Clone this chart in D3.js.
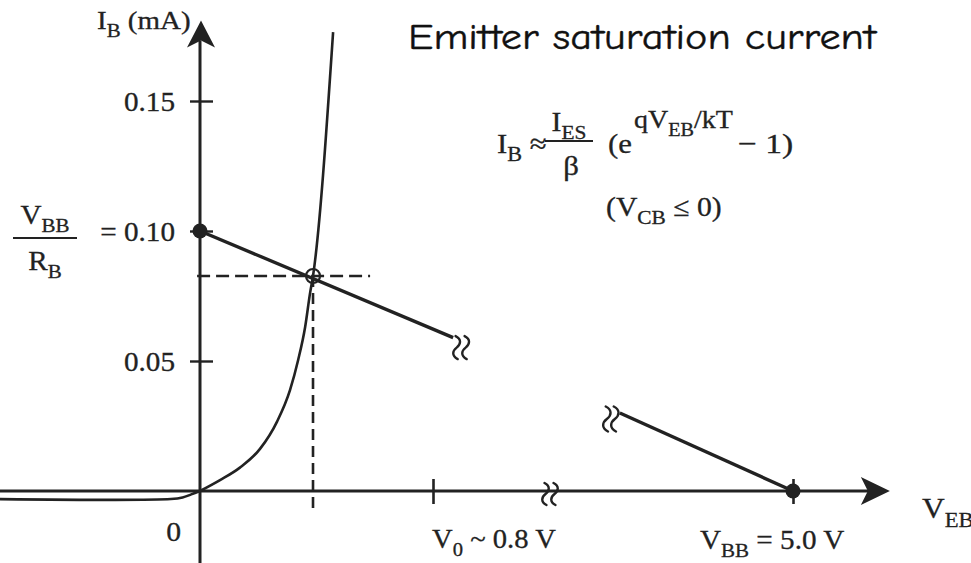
<!DOCTYPE html>
<html>
<head>
<meta charset="utf-8">
<script src="https://cdn.jsdelivr.net/npm/d3@7"></script>
<style>
  html, body { margin: 0; padding: 0; background: #fff; }
  svg { display: block; }
</style>
</head>
<body>
<svg id="chart" width="971" height="563"></svg>
<script>
// Emitter-base junction: base current vs. V_EB, with the input load line

// x axis (volts): origin, turn-on voltage V0 and supply VBB
const xKnots = [0, 0.8, 5.0];
const xTickValues = [0.8, 5.0];
const xAxisSpan = [-0.7, 6.13];
const xAxisBreak = 2.165;

// y axis (mA)
const yTickValues = [0.05, 0.10, 0.15];
const yTickLabels = ["0.05", "= 0.10", "0.15"];
const yAxisSpan = [-0.03, 0.181];

// junction characteristic I_B(V_EB): small reverse leakage ...
const reverseBranch = [
  [-0.70, -0.0031], [-0.100, -0.0031], [-0.060, -0.0025], [-0.030, -0.0013], [0, 0]
];
// ... then an exponential rise in forward bias
const forwardBranch = [
  [0, 0], [0.0687, 0.0042], [0.137, 0.0090], [0.206, 0.0162], [0.265, 0.0268],
  [0.309, 0.0388], [0.337, 0.0504], [0.361, 0.0631], [0.378, 0.0762],
  [0.388, 0.0827], [0.457, 0.1765]
];

// load line I_B = (VBB - V_EB) / R_B, drawn in two pieces around the break
const loadLineNear = [[0, 0.10], [1.035, 0.059]];
const loadLineFar = [[2.98, 0.030], [5.0, 0]];
const loadLineEnds = [[0, 0.10], [5.0, 0]];

// operating point
const qPoint = [0.388, 0.0827];
const qGuideX = [-0.01, 0.584];     // horizontal guide span (V)
const qGuideYMin = -0.0065;         // vertical guide lower end (mA)

const ink = "#222";
const serif = "'Liberation Serif', 'Times New Roman', serif";

const svg = d3.select("#chart");

const x = d3.scaleLinear().domain(xKnots).range([200, 433, 793]);
const y = d3.scaleLinear().domain([0, 0.15]).range([491, 101]);

// text with subscripts / superscripts, stretched horizontally a little
function rich(g, px, py, parts, opt) {
  const o = Object.assign({ size: 27, anchor: "start", sx: 1.1 }, opt || {});
  const t = g.append("text")
    .attr("transform", `translate(${px},${py}) scale(${o.sx},1)`)
    .attr("font-family", o.family || serif)
    .attr("font-size", o.size)
    .attr("fill", ink)
    .attr("stroke", ink)
    .attr("stroke-width", 0.3)
    .attr("text-anchor", o.anchor);
  let shift = 0;
  parts.forEach(p => {
    const [txt, kind] = Array.isArray(p) ? p : [p, null];
    let target = 0, fs = o.size;
    if (kind === "sub") { target = o.size * 0.3; fs = o.size * 0.72; }
    if (kind === "sup") { target = -o.size * 0.5; fs = o.size * 0.72; }
    t.append("tspan")
      .attr("dy", target - shift)
      .attr("font-size", fs)
      .text(txt);
    shift = target;
  });
  return t;
}

// pair of wavy break marks
function breakMarks(g, cx, cy, h, gap) {
  const k = h / 22;
  const d = `M ${-1 * k},${-11 * k} C ${5 * k},${-8 * k} ${4 * k},${-3 * k} 0,0 C ${-4 * k},${3 * k} ${-5 * k},${8 * k} ${1 * k},${11 * k}`;
  [-gap / 2, gap / 2].forEach(off => {
    g.append("path")
      .attr("transform", `translate(${cx + off},${cy})`)
      .attr("d", d)
      .attr("fill", "none")
      .attr("stroke", ink)
      .attr("stroke-width", 2.4)
      .attr("stroke-linecap", "round");
  });
}

const plot = svg.append("g");

// ---- axes ----
const x0 = x(0), y0 = y(0);
const xTip = x(xAxisSpan[1]);
const yTip = y(yAxisSpan[1]);

plot.append("line")
  .attr("x1", x(xAxisSpan[0])).attr("x2", xTip - 20)
  .attr("y1", y0).attr("y2", y0)
  .attr("stroke", ink).attr("stroke-width", 3);
plot.append("path")
  .attr("d", `M ${xTip},${y0} L ${xTip - 29},${y0 - 14} L ${xTip - 22},${y0} L ${xTip - 29},${y0 + 14} Z`)
  .attr("fill", ink);

plot.append("line")
  .attr("x1", x0).attr("x2", x0)
  .attr("y1", y(yAxisSpan[0])).attr("y2", yTip + 20)
  .attr("stroke", ink).attr("stroke-width", 3);
plot.append("path")
  .attr("d", `M ${x0 + 1},${yTip} L ${x0 - 13},${yTip + 27} L ${x0 + 1},${yTip + 20} L ${x0 + 15},${yTip + 27} Z`)
  .attr("fill", ink);

// y ticks crossing the axis, with labels
const yAxis = d3.axisLeft(y)
  .tickValues(yTickValues)
  .tickSize(10)
  .tickPadding(15)
  .tickFormat((d, i) => yTickLabels[i]);
const yg = plot.append("g").attr("transform", `translate(${x0},0)`).call(yAxis);
yg.select(".domain").remove();
yg.selectAll(".tick line")
  .attr("x1", -10).attr("x2", 13)
  .attr("stroke", ink).attr("stroke-width", 2.4);
yg.selectAll(".tick text")
  .attr("font-family", serif)
  .attr("font-size", 27)
  .attr("fill", ink)
  .attr("stroke", ink)
  .attr("stroke-width", 0.3)
  .attr("x", null)
  .attr("dy", "0.35em")
  .attr("transform", "translate(-25,0) scale(1.08,1)");

// x ticks crossing the axis
const xAxis = d3.axisBottom(x).tickValues(xTickValues).tickSize(12).tickFormat("");
const xg = plot.append("g").attr("transform", `translate(0,${y0})`).call(xAxis);
xg.select(".domain").remove();
xg.selectAll(".tick line")
  .attr("y1", -12).attr("y2", 13)
  .attr("stroke", ink).attr("stroke-width", 2.6);

breakMarks(plot, x(xAxisBreak), y0 + 3, 22, 9);

// ---- guides to the operating point ----
plot.append("line")
  .attr("x1", x(qGuideX[0])).attr("x2", x(qGuideX[1]))
  .attr("y1", y(qPoint[1])).attr("y2", y(qPoint[1]))
  .attr("stroke", ink).attr("stroke-width", 2.6)
  .attr("stroke-dasharray", "13,6");
plot.append("line")
  .attr("x1", x(qPoint[0])).attr("x2", x(qPoint[0]))
  .attr("y1", y(qPoint[1])).attr("y2", y(qGuideYMin))
  .attr("stroke", ink).attr("stroke-width", 2.6)
  .attr("stroke-dasharray", "11,6");

// ---- junction characteristic ----
const curveLine = d3.line().x(d => x(d[0])).y(d => y(d[1]));
plot.append("path")
  .datum(reverseBranch)
  .attr("d", curveLine.curve(d3.curveCatmullRom.alpha(0.5)))
  .attr("fill", "none")
  .attr("stroke", ink)
  .attr("stroke-width", 2.6);
plot.append("path")
  .datum(forwardBranch)
  .attr("d", curveLine.curve(d3.curveMonotoneX))
  .attr("fill", "none")
  .attr("stroke", ink)
  .attr("stroke-width", 2.6);

// ---- load line ----
const straight = d3.line().x(d => x(d[0])).y(d => y(d[1]));
[loadLineNear, loadLineFar].forEach(seg => {
  plot.append("path")
    .datum(seg)
    .attr("d", straight)
    .attr("fill", "none")
    .attr("stroke", ink)
    .attr("stroke-width", 3.4);
});
const nearEnd = loadLineNear[1], farStart = loadLineFar[0];
breakMarks(plot, x(nearEnd[0]) + 8, y(nearEnd[1]) + 10, 23, 9);
breakMarks(plot, x(farStart[0]) - 9, y(farStart[1]) + 6, 25, 8);

plot.selectAll("circle.end")
  .data(loadLineEnds)
  .join("circle")
  .attr("class", "end")
  .attr("cx", d => x(d[0])).attr("cy", d => y(d[1]))
  .attr("r", 7.5)
  .attr("fill", ink);

plot.append("circle")
  .attr("cx", x(qPoint[0])).attr("cy", y(qPoint[1]))
  .attr("r", 7)
  .attr("fill", "none")
  .attr("stroke", ink)
  .attr("stroke-width", 2.2);

// ---- labels ----
const labels = svg.append("g");

rich(labels, 97, 29, ["I", ["B", "sub"], " (mA)"], { size: 25, sx: 1.16 });

// VBB / RB fraction beside the 0.10 tick
rich(labels, 45, 224, ["V", ["BB", "sub"]], { anchor: "middle", size: 27, sx: 1.08 });
labels.append("line")
  .attr("x1", 13).attr("x2", 77)
  .attr("y1", 238).attr("y2", 238)
  .attr("stroke", ink).attr("stroke-width", 2.2);
rich(labels, 45, 270, ["R", ["B", "sub"]], { anchor: "middle", size: 27, sx: 1.08 });

rich(labels, 181, 541, ["0"], { anchor: "end" });
rich(labels, 432, 548, ["V", ["0", "sub"], " ~ 0.8 V"], { sx: 1.06 });
rich(labels, 700, 549, ["V", ["BB", "sub"], " = 5.0 V"], { sx: 1.08 });
rich(labels, 922, 518, ["V", ["EB", "sub"]], { size: 30, sx: 1.05 });

// equation for the junction characteristic
rich(labels, 497, 153, ["I", ["B", "sub"], " \u2248"], { size: 28 });
rich(labels, 569, 131, ["I", ["ES", "sub"]], { anchor: "middle", size: 27 });
labels.append("line")
  .attr("x1", 545).attr("x2", 593)
  .attr("y1", 141).attr("y2", 141)
  .attr("stroke", ink).attr("stroke-width", 2);
rich(labels, 571, 175, ["\u03b2"], { anchor: "middle", size: 28 });
rich(labels, 608, 153, ["(e"], { size: 28 });
rich(labels, 634, 128, ["qV", ["EB", "sub"], "/kT"], { size: 25, sx: 1.12 });
rich(labels, 738, 153, ["\u2212 1)"], { size: 28, sx: 1.2 });
rich(labels, 606, 216, ["(V", ["CB", "sub"], " \u2264 0)"], { size: 27, sx: 1.1 });

// heading
labels.append("text")
  .attr("x", 408).attr("y", 49)
  .attr("font-family", "'Comic Sans MS', 'Comic Neue', 'DejaVu Sans', sans-serif")
  .attr("font-size", 37)
  .attr("fill", "#111")
  .attr("stroke", "#111")
  .attr("stroke-width", 0.4)
  .attr("textLength", 468)
  .attr("lengthAdjust", "spacingAndGlyphs")
  .text("Emitter saturation current");
</script>
</body>
</html>
